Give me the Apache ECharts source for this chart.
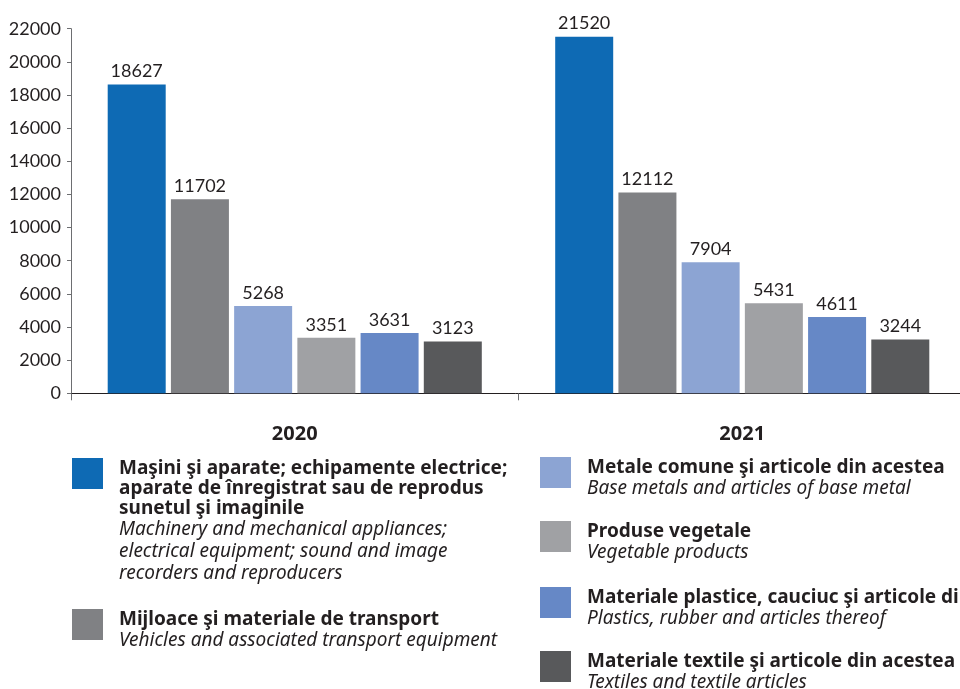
<!DOCTYPE html>
<html>
<head>
<meta charset="utf-8">
<script src="https://cdn.jsdelivr.net/npm/echarts@6/dist/echarts.min.js"></script>
<style>
  html, body { margin: 0; padding: 0; background: #fff; }
  #chart { width: 960px; height: 689px; }
</style>
</head>
<body>
<div id="chart"></div>
<script>
var years = ['2020', '2021']
var masini = [18627, 21520]
var transport = [11702, 12112]
var metale = [5268, 7904]
var vegetale = [3351, 5431]
var plastice = [3631, 4611]
var textile = [3123, 3244]

var seriesData = [masini, transport, metale, vegetale, plastice, textile]
var colors = ['#0e6ab4', '#808184', '#8ca4d3', '#a0a1a4', '#6688c6', '#58595b']
var namesRo = [
  'Maşini şi aparate; echipamente electrice;\naparate de înregistrat sau de reprodus\nsunetul şi imaginile',
  'Mijloace şi materiale de transport',
  'Metale comune şi articole din acestea',
  'Produse vegetale',
  'Materiale plastice, cauciuc şi articole din acestea',
  'Materiale textile şi articole din acestea'
]
var namesEn = [
  'Machinery and mechanical appliances;\nelectrical equipment; sound and image\nrecorders and reproducers',
  'Vehicles and associated transport equipment',
  'Base metals and articles of base metal',
  'Vegetable products',
  'Plastics, rubber and articles thereof',
  'Textiles and textile articles'
]

var textColor = '#231f20'
var numFont = 'Lato, "Noto Sans", sans-serif'
var textFont = '"Noto Sans", sans-serif'

// legend boxes positions (column x, row y)
var legendPos = [
  [72, 458], [72, 609],
  [540, 457], [540, 521], [540, 587], [540, 651]
]

var chart = echarts.init(document.getElementById('chart'))

var series = seriesData.map(function(d, i) {
  return {
    name: namesEn[i],
    type: 'bar',
    data: d,
    barWidth: 58,
    barGap: '9%',
    itemStyle: { color: colors[i] },
    label: {
      show: true,
      position: 'top',
      distance: 4,
      color: textColor,
      fontFamily: numFont,
      fontSize: 18
    }
  }
})

var graphic = []
namesRo.forEach(function(n, i) {
  var p = legendPos[i]
  graphic.push({
    type: 'rect',
    shape: { x: p[0], y: p[1], width: 31, height: 31 },
    style: { fill: colors[i] }
  })
  var txt = n.split('\n').map(function(s) { return '{b|' + s + '}' })
    .concat(namesEn[i].split('\n').map(function(s) { return '{i|' + s + '}' }))
    .join('\n')
  graphic.push({
    type: 'text',
    x: p[0] + 47,
    y: p[1] + 1,
    style: {
      text: txt,
      verticalAlign: 'top',
      fill: textColor,
      rich: {
        b: { fontFamily: textFont, fontWeight: 'bold', fontSize: 19, lineHeight: 20, fill: textColor, color: textColor },
        i: { fontFamily: textFont, fontStyle: 'italic', fontSize: 19, lineHeight: 22, fill: textColor, color: textColor }
      }
    }
  })
})

chart.setOption({
  animation: false,
  grid: { left: 71, right: -6, top: 28.7, bottom: 295.7, outerBoundsMode: 'none', containLabel: false },
  xAxis: {
    type: 'category',
    data: years,
    axisLine: { lineStyle: { color: textColor, width: 1 } },
    axisTick: { show: true, length: 7, lineStyle: { color: '#6d6e71' } },
    axisLabel: {
      margin: 31,
      color: textColor,
      fontFamily: textFont,
      fontWeight: 'bold',
      fontSize: 20
    }
  },
  yAxis: {
    type: 'value',
    min: 0,
    max: 22000,
    interval: 2000,
    splitLine: { show: false },
    axisLine: { show: true, lineStyle: { color: '#6d6e71', width: 1 } },
    axisTick: { show: true, length: 4, lineStyle: { color: '#6d6e71' } },
    axisLabel: {
      margin: 10,
      color: textColor,
      fontFamily: numFont,
      fontSize: 18,
      formatter: function(v) { return String(v) }
    }
  },
  series: series,
  graphic: graphic
})
</script>
</body>
</html>
